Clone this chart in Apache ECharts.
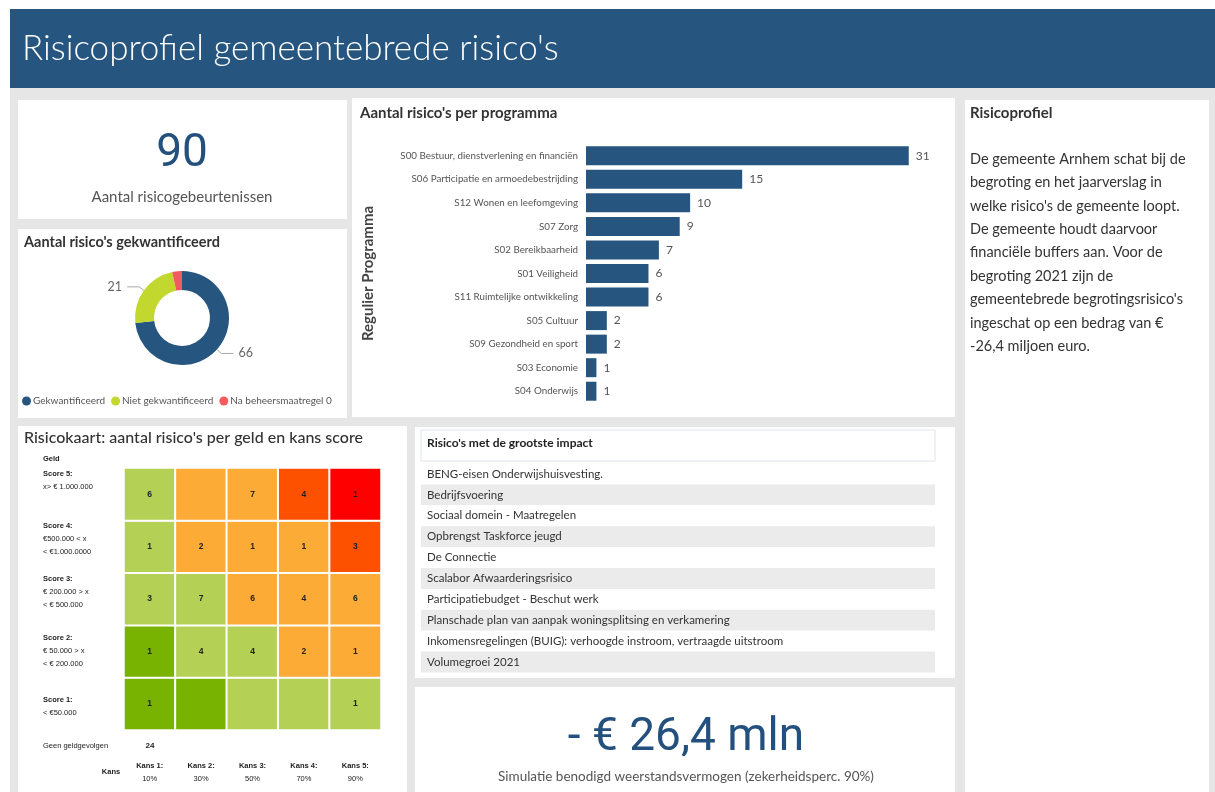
<!DOCTYPE html>
<html>
<head>
<meta charset="utf-8">
<script src="https://cdn.jsdelivr.net/npm/echarts@6/dist/echarts.min.js"></script>
<style>html,body{margin:0;padding:0;background:#fff}#c{width:1215px;height:792px}</style>
</head>
<body>
<div id="c"></div>
<script>
// ---- data ----
const totalRisks = 90;
const totalRisksLabel = 'Aantal risicogebeurtenissen';
const donutNames = ['Gekwantificeerd', 'Niet gekwantificeerd', 'Na beheersmaatregel 0'];
const donutValues = [66, 21, 3];
const programmes = ['S00 Bestuur, dienstverlening en financiën', 'S06 Participatie en armoedebestrijding', 'S12 Wonen en leefomgeving', 'S07 Zorg', 'S02 Bereikbaarheid', 'S01 Veiligheid', 'S11 Ruimtelijke ontwikkeling', 'S05 Cultuur', 'S09 Gezondheid en sport', 'S03 Economie', 'S04 Onderwijs'];
const programmeCounts = [31, 15, 10, 9, 7, 6, 6, 2, 2, 1, 1];
const kansLabels = ['Kans 1:\n10%', 'Kans 2:\n30%', 'Kans 3:\n50%', 'Kans 4:\n70%', 'Kans 5:\n90%'];
const geldLabels = ['Score 1:\n< €50.000', 'Score 2:\n€ 50.000 > x\n< € 200.000', 'Score 3:\n€ 200.000 > x\n< € 500.000', 'Score 4:\n€500.000 < x\n< €1.000.0000', 'Score 5:\nx> € 1.000.000'];
// rows: Score 1 .. Score 5, columns: Kans 1 .. Kans 5 (null = empty cell)
const riskCounts = [
  [1, null, null, null, 1],
  [1, 4, 4, 2, 1],
  [3, 7, 6, 4, 6],
  [1, 2, 1, 1, 3],
  [6, null, 7, 4, 1]
];
// risk level class per cell: 0 dark green, 1 light green, 2 orange, 3 dark orange, 4 red
const riskLevels = [
  [0, 0, 1, 1, 1],
  [0, 1, 1, 2, 2],
  [1, 1, 2, 2, 2],
  [1, 2, 2, 2, 3],
  [1, 2, 2, 3, 4]
];
const geenGeldgevolgen = 24;
const topRisks = ['BENG-eisen Onderwijshuisvesting.', 'Bedrijfsvoering', 'Sociaal domein - Maatregelen', 'Opbrengst Taskforce jeugd', 'De Connectie', 'Scalabor Afwaarderingsrisico', 'Participatiebudget - Beschut werk', 'Planschade plan van aanpak woningsplitsing en verkamering', 'Inkomensregelingen (BUIG): verhoogde instroom, vertraagde uitstroom', 'Volumegroei 2021'];
const kpiAmount = '- € 26,4 mln';
const kpiAmountLabel = 'Simulatie benodigd weerstandsvermogen (zekerheidsperc. 90%)';
const profileLines = ['De gemeente Arnhem schat bij de', 'begroting en het jaarverslag in', "welke risico's de gemeente loopt.", 'De gemeente houdt daarvoor', 'financiële buffers aan. Voor de', 'begroting 2021 zijn de', "gemeentebrede begrotingsrisico's", 'ingeschat op een bedrag van €', '-26,4 miljoen euro.'];

// ---- styling ----
const BLUE = '#26557f';
const F = "Lato, 'Noto Sans', sans-serif";
const FA = "'Liberation Sans', Arial, sans-serif";
const levelColors = ['#77b300', '#b5d155', '#fdab37', '#fe5100', '#fe0000'];
// vertical label paddings (layout only) for the Geld labels, bottom to top
const geldLabelPadding = [[6, 0, 0, 0], [0, 0, 0, 0], [0, 0, 14, 0], [0, 0, 16, 0], [0, 0, 28, 0]];

const heatData = [];
riskCounts.forEach((row, y) => row.forEach((c, x) => heatData.push([x, y, riskLevels[y][x], c])));

const chart = echarts.init(document.getElementById('c'), null, {renderer: 'canvas'});

function rect(x, y, w, h, fill, extra) {
  return Object.assign({type: 'rect', shape: {x, y, width: w, height: h}, style: {fill}, silent: true, z: -10}, extra || {});
}
function text(x, y, t, opts) {
  return {type: 'text', z: 5, silent: true, style: Object.assign({x, y, text: t, fill: '#333', fontFamily: F, fontSize: 12, align: 'left', verticalAlign: 'middle'}, opts || {})};
}

const graphics = [
  rect(10, 88, 1205, 704, '#e6e6e6'),
  rect(10, 9, 1205, 79, BLUE),
  text(22, 49, "Risicoprofiel gemeentebrede risico's", {fill: '#fff', fontSize: 35, fontWeight: 300, fontFamily: F}),
  rect(18, 100, 329, 119, '#fff'),
  rect(18, 229, 329, 189, '#fff'),
  rect(352, 98, 603, 319, '#fff'),
  rect(965, 100, 244, 692, '#fff'),
  rect(18, 426, 389, 366, '#fff'),
  rect(415, 427, 540, 251, '#fff'),
  rect(415, 687, 540, 105, '#fff'),
  // KPI 1
  text(182, 154, String(totalRisks), {fill: '#24507e', fontSize: 46, fontFamily: "Roboto, sans-serif", align: 'center'}),
  text(182, 197, totalRisksLabel, {fill: '#555', fontSize: 15, fontFamily: F, align: 'center'}),
  // donut title
  text(24, 242, "Aantal risico's gekwantificeerd", {fill: '#333', fontSize: 14.5, fontWeight: 'bold', fontFamily: F}),
  // bar title
  text(360, 113, "Aantal risico's per programma", {fill: '#333', fontSize: 15, fontWeight: 'bold', fontFamily: F}),
  // profile panel
  text(970, 113, 'Risicoprofiel', {fill: '#333', fontSize: 15, fontWeight: 'bold', fontFamily: F}),
  text(970, 147.5, profileLines.join('\n'), {fill: '#333', fontSize: 14.5, fontFamily: F, verticalAlign: 'top', lineHeight: 23.4}),
  // heat map title & extra labels
  text(24, 438, "Risicokaart: aantal risico's per geld en kans score", {fill: '#333', fontSize: 16, fontWeight: 500, fontFamily: F}),
  text(43, 459, 'Geld', {fill: '#222', fontSize: 7.5, fontWeight: 'bold', fontFamily: FA}),
  text(43, 746, 'Geen geldgevolgen', {fill: '#222', fontSize: 7.5, fontFamily: FA}),
  text(150, 746, String(geenGeldgevolgen), {fill: '#222', fontSize: 8, fontWeight: 'bold', fontFamily: FA, align: 'center'}),
  text(111, 772, 'Kans', {fill: '#222', fontSize: 7.5, fontWeight: 'bold', fontFamily: FA, align: 'center'}),
  // table
  rect(421, 430, 514, 31, '#fff', {style: {fill: '#fff', stroke: '#dde2ea', lineWidth: 1}, z: 1}),
  text(427, 443, "Risico's met de grootste impact", {fill: '#222', fontSize: 12, fontWeight: 'bold', fontFamily: F, z: 6}),
  // KPI 2
  text(686, 738, kpiAmount, {fill: '#24507e', fontSize: 46, fontFamily: "Roboto, sans-serif", align: 'center'}),
  text(686, 777, kpiAmountLabel, {fill: '#555', fontSize: 13.5, fontFamily: F, align: 'center'})
];
topRisks.forEach((r, i) => {
  const top = 463.5 + i * 20.9;
  graphics.push(rect(421, top, 514, 20.9, i % 2 ? '#ebebeb' : '#fff', {z: 1}));
  graphics.push(text(427, top + 10.45, r, {fill: '#333', fontSize: 11.5, fontFamily: F}));
});

const richSmall = {b: {fontSize: 7.5, fontWeight: 'bold', fontFamily: FA, color: '#222', lineHeight: 13}, n: {fontSize: 7.5, fontFamily: FA, color: '#222', lineHeight: 13}};

const option = {
  animation: false,
  backgroundColor: '#fff',
  textStyle: {fontFamily: F},
  graphic: {elements: graphics},
  legend: {
    left: 17, top: 391, icon: 'circle', itemWidth: 9, itemHeight: 9, itemGap: 6,
    textStyle: {fontSize: 10, color: '#555', fontFamily: F, padding: [0, 0, 0, -3]},
    data: donutNames
  },
  grid: [
    {left: 124, top: 468, width: 257, height: 262, outerBoundsMode: 'none'},
    {left: 586, top: 144, width: 354, height: 259, outerBoundsMode: 'none'}
  ],
  xAxis: [
    {gridIndex: 0, type: 'category', data: kansLabels, axisLine: {show: false}, axisTick: {show: false}, splitLine: {show: false},
      axisLabel: {interval: 0, margin: 29, color: '#222', fontFamily: FA, lineHeight: 13,
        formatter: v => { const p = v.split('\n'); return '{b|' + p[0] + '}\n{n|' + p[1] + '}'; },
        rich: richSmall}},
    {gridIndex: 1, type: 'value', min: 0, max: 34, show: false}
  ],
  yAxis: [
    {gridIndex: 0, type: 'category',
      data: geldLabels.map((v, i) => ({value: v, textStyle: {align: 'left', verticalAlign: 'middle', padding: geldLabelPadding[i]}})),
      axisLine: {show: false}, axisTick: {show: false}, splitLine: {show: false},
      axisLabel: {interval: 0, margin: 81, align: 'left', verticalAlign: 'middle', color: '#222', lineHeight: 13,
        formatter: v => v.split('\n').map((s, i) => (i === 0 ? '{b|' : '{n|') + s + '}').join('\n'),
        rich: richSmall}},
    {gridIndex: 1, type: 'category', data: programmes, inverse: true, axisLine: {show: false}, axisTick: {show: false},
      axisLabel: {interval: 0, fontSize: 9.8, color: '#555', fontFamily: F, margin: 8},
      name: 'Regulier Programma', nameLocation: 'middle', nameGap: 210,
      nameTextStyle: {fontSize: 15, fontWeight: 'bold', color: '#444', fontFamily: F}}
  ],
  visualMap: {
    type: 'piecewise', show: false, dimension: 2, seriesIndex: 0,
    pieces: levelColors.map((c, i) => ({value: i, color: c}))
  },
  series: [
    {
      type: 'heatmap', xAxisIndex: 0, yAxisIndex: 0, data: heatData,
      itemStyle: {borderColor: '#fff', borderWidth: 2},
      label: {show: true, fontSize: 8.5, fontWeight: 'bold', color: '#222', fontFamily: FA,
        formatter: p => (p.value[3] == null ? '' : String(p.value[3]))},
      emphasis: {disabled: true}
    },
    {
      type: 'bar', xAxisIndex: 1, yAxisIndex: 1, data: programmeCounts, barWidth: 19,
      itemStyle: {color: BLUE},
      label: {show: true, position: 'right', distance: 7, fontSize: 12, color: '#555', fontFamily: F}
    },
    {
      type: 'pie', center: [182, 318], radius: [28, 47], startAngle: 90, clockwise: true,
      color: [BLUE, '#c3d82f', '#f25c5e'],
      data: donutNames.map((n, i) => ({name: n, value: donutValues[i], label: {show: i < 2}, labelLine: {show: i < 2}})),
      label: {show: true, position: 'outside', formatter: '{c}', fontSize: 12.5, color: '#666', fontFamily: F},
      labelLine: {length: 6, length2: 12, lineStyle: {color: '#aaa', width: 1}},
      avoidLabelOverlap: false,
      emphasis: {disabled: true}
    }
  ]
};
chart.setOption(option);
</script>
</body>
</html>
